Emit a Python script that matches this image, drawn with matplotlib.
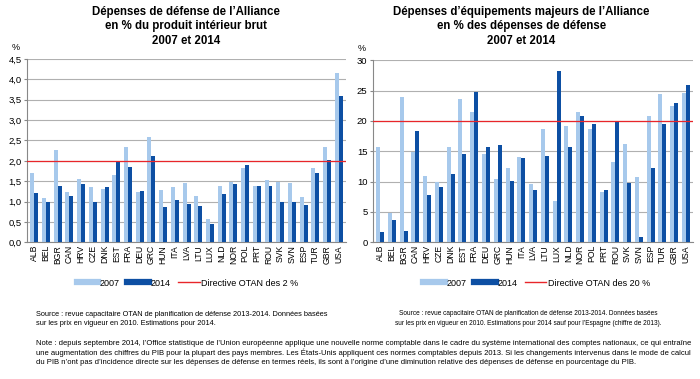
import matplotlib.pyplot as plt
import numpy as np
from matplotlib.lines import Line2D

plt.rcParams['font.family'] = ['Liberation Sans', 'DejaVu Sans']

countries = ["ALB", "BEL", "BGR", "CAN", "HRV", "CZE", "DNK", "EST", "FRA", "DEU",
             "GRC", "HUN", "ITA", "LVA", "LTU", "LUX", "NLD", "NOR", "POL", "PRT",
             "ROU", "SVK", "SVN", "ESP", "TUR", "GBR", "USA"]

# % du PIB
gdp_2007 = [1.71, 1.09, 2.26, 1.23, 1.56, 1.35, 1.30, 1.66, 2.33, 1.23,
            2.59, 1.28, 1.36, 1.46, 1.14, 0.57, 1.39, 1.49, 1.83, 1.37,
            1.52, 1.49, 1.45, 1.11, 1.83, 2.33, 4.15]
gdp_2014 = [1.21, 1.00, 1.37, 1.14, 1.42, 0.98, 1.35, 1.98, 1.85, 1.25,
            2.12, 0.86, 1.04, 0.93, 0.89, 0.45, 1.19, 1.43, 1.90, 1.37,
            1.39, 0.98, 1.00, 0.91, 1.69, 2.01, 3.60]

# % des dépenses de défense
equip_2007 = [15.7, 4.8, 24.0, 14.8, 10.9, 9.9, 15.7, 23.6, 21.5, 14.5,
              10.4, 12.2, 14.0, 9.6, 18.7, 6.8, 19.1, 21.4, 18.7, 8.3,
              13.2, 16.2, 10.75, 20.8, 24.4, 22.5, 24.6]
equip_2014 = [1.75, 3.7, 1.9, 18.3, 7.7, 9.05, 11.2, 14.6, 24.7, 15.7,
              16.0, 10.1, 13.9, 8.55, 14.2, 28.25, 15.7, 20.8, 19.5, 8.55,
              19.8, 9.8, 0.9, 12.3, 19.5, 22.9, 26.0]

light = "#a7c9ec"
dark = "#0d4fa3"
red = "#e8262a"

fig = plt.figure(figsize=(7, 3.79), dpi=100)


def draw(rect, v07, v14, ymax, step, target, fmt, title, tx, legend_label, lx):
    ax = fig.add_axes(rect)
    x = np.arange(len(countries))
    w = 0.34
    ax.bar(x - w / 2, v07, w, color=light, zorder=3)
    ax.bar(x + w / 2, v14, w, color=dark, zorder=3)
    ax.axhline(target, color=red, lw=0.9, zorder=4)
    ax.set_xlim(-0.6, len(countries) - 0.4)
    ax.set_ylim(0, ymax)
    ticks = np.arange(0, ymax + step / 2, step)
    ax.set_yticks(ticks)
    ax.set_yticklabels([fmt(t) for t in ticks], fontsize=6.8)
    ax.set_xticks(x)
    ax.set_xticklabels(countries, rotation=90, fontsize=6.2)
    ax.tick_params(axis='x', length=0, pad=2)
    ax.tick_params(axis='y', length=2, pad=2, color="#888888")
    ax.grid(axis='y', color="#b0b0b0", lw=0.8, zorder=0)
    for s in ["top", "right"]:
        ax.spines[s].set_visible(False)
    ax.spines["left"].set_color("#888888")
    ax.spines["bottom"].set_color("#888888")
    ax.text(-0.035, 1.05, "%", transform=ax.transAxes, fontsize=6.5, ha="center")
    fig.text(tx, 0.985, title, fontsize=8.3, fontweight="bold", ha="center", va="top",
             linespacing=1.3)
    handles = [Line2D([], [], color=light, lw=4.5),
               Line2D([], [], color=dark, lw=4.5),
               Line2D([], [], color=red, lw=1)]
    fig.legend(handles, ["2007", "2014", legend_label], loc="center",
               bbox_to_anchor=(lx, 0.253), ncol=3, frameon=False, fontsize=6.5,
               handlelength=2.4, handletextpad=0.2, columnspacing=0.8)
    return ax


draw([0.039, 0.361, 0.455, 0.483], gdp_2007, gdp_2014, 4.5, 0.5, 2.0,
     lambda t: f"{t:.1f}".replace(".", ","),
     "Dépenses de défense de l’Alliance\nen % du produit intérieur brut\n2007 et 2014", 0.266,
     "Directive OTAN des 2 %", 0.268)
draw([0.533, 0.361, 0.457, 0.48], equip_2007, equip_2014, 30, 5, 20,
     lambda t: f"{int(t)}",
     "Dépenses d’équipements majeurs de l’Alliance\nen % des dépenses de défense\n2007 et 2014", 0.745,
     "Directive OTAN des 20 %", 0.767)

fig.text(0.051, 0.138, "Source : revue capacitaire OTAN de planification de défense 2013-2014. Données basées\n"
         "sur les prix en vigueur en 2010. Estimations pour 2014.",
         fontsize=5.35, va="bottom", linespacing=1.3)
fig.text(0.755, 0.138, "Source : revue capacitaire OTAN de planification de défense 2013-2014. Données basées\n"
         "sur les prix en vigueur en 2010. Estimations pour 2014 sauf pour l’Espagne (chiffre de 2013).",
         fontsize=4.7, va="bottom", ha="center", multialignment="center", linespacing=1.45)
fig.text(0.051, 0.035,
         "Note : depuis septembre 2014, l’Office statistique de l’Union européenne applique une nouvelle norme comptable dans le cadre du système international des comptes nationaux, ce qui entraîne\n"
         "une augmentation des chiffres du PIB pour la plupart des pays membres. Les États-Unis appliquent ces normes comptables depuis 2013. Si les changements intervenus dans le mode de calcul\n"
         "du PIB n’ont pas d’incidence directe sur les dépenses de défense en termes réels, ils sont à l’origine d’une diminution relative des dépenses de défense en pourcentage du PIB.",
         fontsize=5.5, va="bottom", linespacing=1.3)

fig.savefig("out.png", dpi=100)
